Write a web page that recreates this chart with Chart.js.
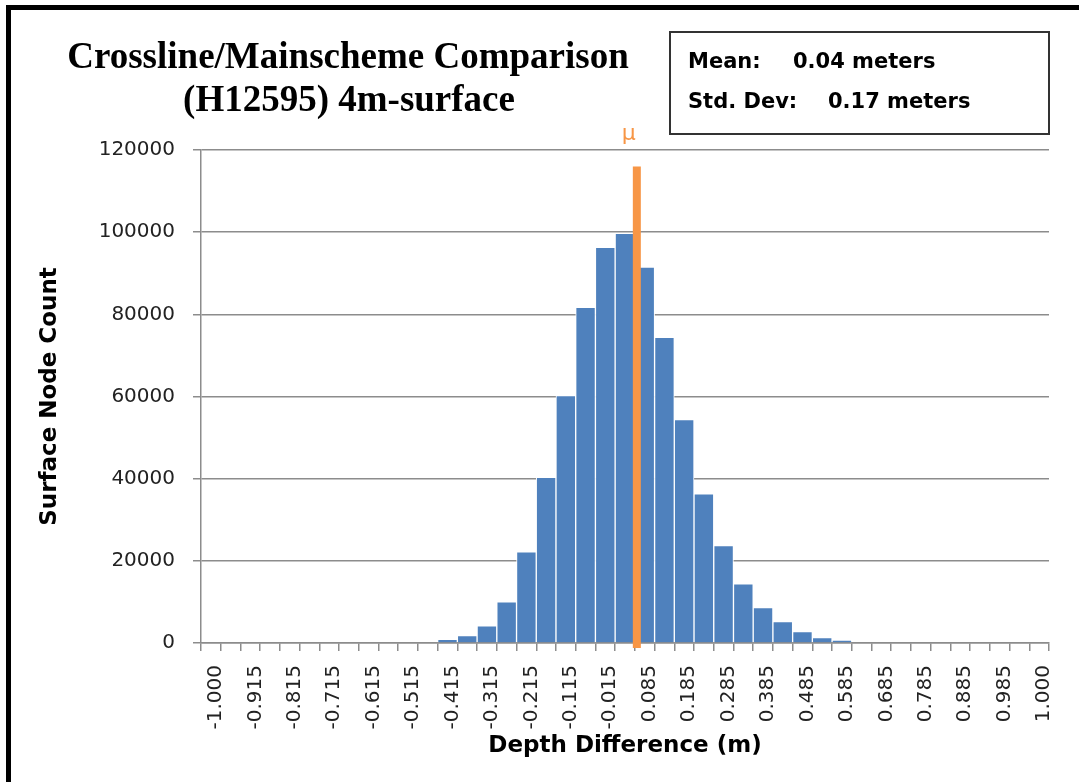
<!DOCTYPE html>
<html>
<head>
<meta charset="utf-8">
<script src="https://cdn.jsdelivr.net/npm/chart.js@4.4.1/dist/chart.umd.min.js"></script>
<style>
  html, body { margin: 0; padding: 0; background: #fff; }
  #wrap { position: relative; width: 1079px; height: 782px; }
  #frame {
    position: absolute; left: 6px; top: 5px; right: 0; height: 774px;
    border-top: 5px solid #000; border-left: 5px solid #000;
    border-bottom: 2px solid #777; pointer-events: none;
  }
</style>
</head>
<body>
<div id="wrap">
  <canvas id="chart" width="1079" height="782"></canvas>
  <div id="frame"></div>
</div>
<script>
// bin labels (Excel histogram bins), only every other one is shown
const bins = [
  "-1.000", "-0.965", "-0.915", "-0.865", "-0.815", "-0.765", "-0.715", "-0.665",
  "-0.615", "-0.565", "-0.515", "-0.465", "-0.415", "-0.365", "-0.315", "-0.265",
  "-0.215", "-0.165", "-0.115", "-0.065", "-0.015", "0.035", "0.085", "0.135",
  "0.185", "0.235", "0.285", "0.335", "0.385", "0.435", "0.485", "0.535",
  "0.585", "0.635", "0.685", "0.735", "0.785", "0.835", "0.885", "0.935",
  "0.985", "1.035", "1.000"
];
const nodeCounts = [
  0, 0, 0, 0, 0, 0, 0, 0,
  0, 0, 0, 0, 900, 1800, 4200, 10000,
  22200, 40300, 60200, 81700, 96300, 99700, 91500, 74400,
  54400, 36300, 23700, 14400, 8600, 5200, 2800, 1300,
  700, 0, 0, 0, 0, 0, 0, 0,
  0, 0, 0
];
const titleLines = ["Crossline/Mainscheme Comparison", "(H12595) 4m-surface"];
const statLabels = ["Mean:", "Std. Dev:"];
const statValues = ["0.04 meters", "0.17 meters"];
const meanValue = 0.04;
const meanLineTop = 116000;

const BLUE = "#4F81BD";
const ORANGE = "#F79646";
const GRID = "#8c8c8c";
const SANS = "'DejaVu Sans', sans-serif";

// title, stats box and mean marker
const extras = {
  id: "extras",
  afterDatasetsDraw(chart) {
    const { ctx, scales } = chart;
    const x = scales.x, y = scales.y;

    // mean line: bins are upper limits, place mean inside its bin
    let px = null;
    for (let i = 1; i < bins.length - 1; i++) {
      const lo = parseFloat(bins[i - 1]), hi = parseFloat(bins[i]);
      if (meanValue > lo && meanValue <= hi) {
        const half = (x.getPixelForValue(i) - x.getPixelForValue(i - 1)) / 2;
        const left = x.getPixelForValue(i) - half;
        px = left + (meanValue - lo) / (hi - lo) * half * 2;
        break;
      }
    }
    if (px !== null) {
      ctx.save();
      ctx.strokeStyle = ORANGE;
      ctx.lineWidth = 8;
      ctx.beginPath();
      ctx.moveTo(px, y.getPixelForValue(meanLineTop));
      ctx.lineTo(px, y.getPixelForValue(0) + 5);
      ctx.stroke();
      ctx.fillStyle = ORANGE;
      ctx.font = "22px " + SANS;
      ctx.textAlign = "center";
      ctx.textBaseline = "alphabetic";
      ctx.fillText("\u03bc", px - 8, 140);
      ctx.restore();
    }
  },
  afterDraw(chart) {
    const { ctx } = chart;
    ctx.save();
    ctx.fillStyle = "#000";
    ctx.font = "bold 37px 'Liberation Serif', serif";
    ctx.textAlign = "center";
    ctx.textBaseline = "alphabetic";
    ctx.fillText(titleLines[0], 348, 68);
    ctx.fillText(titleLines[1], 349, 111);

    ctx.strokeStyle = "#333";
    ctx.lineWidth = 2;
    ctx.strokeRect(670, 32, 379, 102);
    ctx.font = "bold 21px " + SANS;
    ctx.textAlign = "left";
    ctx.fillText(statLabels[0], 688, 68);
    ctx.fillText(statValues[0], 793, 68);
    ctx.fillText(statLabels[1], 688, 108);
    ctx.fillText(statValues[1], 828, 108);
    ctx.restore();
  }
};

new Chart(document.getElementById("chart").getContext("2d"), {
  type: "bar",
  data: {
    labels: bins,
    datasets: [{
      data: nodeCounts,
      backgroundColor: BLUE,
      borderColor: "#fff",
      borderWidth: 1,
      barPercentage: 1,
      categoryPercentage: 1
    }]
  },
  options: {
    responsive: false,
    animation: false,
    layout: { padding: { left: 30, right: 30, top: 150, bottom: 20 } },
    plugins: {
      legend: { display: false },
      tooltip: { enabled: false }
    },
    scales: {
      x: {
        grid: { display: true, drawOnChartArea: false, drawTicks: true, tickLength: 8, offset: true, color: GRID, lineWidth: 1.5 },
        border: { color: GRID, width: 1.5 },
        ticks: {
          autoSkip: false, maxRotation: 90, minRotation: 90, padding: 14, labelOffset: 5,
          color: "#222", font: { family: SANS, size: 20 },
          callback: (v, i) => (i % 2 === 0 ? bins[i] : "")
        },
        title: {
          display: true, text: "Depth Difference (m)", color: "#000",
          font: { family: SANS, size: 23, weight: "bold" }, padding: { top: 0, bottom: 2 }
        },
        afterFit: (s) => { s.height = 119; }
      },
      y: {
        min: 0, max: 120000,
        grid: { color: GRID, lineWidth: 1.5, drawTicks: true, tickLength: 8 },
        border: { color: GRID, width: 1.5 },
        ticks: {
          stepSize: 20000, padding: 18, color: "#222",
          font: { family: SANS, size: 20 },
          callback: (v) => String(v)
        },
        title: {
          display: true, text: "Surface Node Count", color: "#000",
          font: { family: SANS, size: 23, weight: "bold" }, padding: { top: 6, bottom: 0 }
        },
        afterFit: (s) => { s.width = 171; }
      }
    }
  },
  plugins: [extras]
});
</script>
</body>
</html>
